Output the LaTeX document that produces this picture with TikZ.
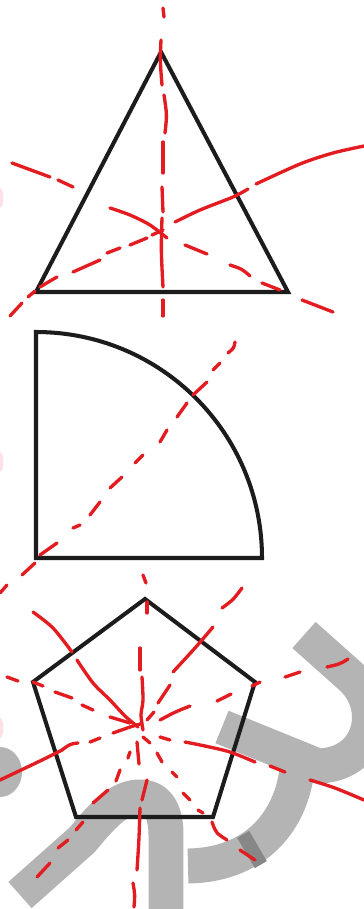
\documentclass[tikz,border=0pt]{standalone}
\definecolor{ink}{RGB}{28,28,28}
\definecolor{penred}{RGB}{226,28,32}
\definecolor{wmgrey}{RGB}{180,180,180}
\definecolor{wmdark}{RGB}{135,135,135}
\definecolor{smudge}{RGB}{252,226,230}
\begin{document}
\begin{tikzpicture}[x=0.02cm,y=-0.02cm,
  outline/.style={draw=ink,line width=2.3pt,line join=miter},
  pen/.style={draw=penred,line width=1.9pt,line cap=round,line join=round},
  wm/.style={draw=wmgrey,line width=0.7cm,line cap=butt,line join=round},
  wmd/.style={draw=wmdark,line width=0.7cm,line cap=butt}]
\useasboundingbox (0,0) rectangle (364,909);
\fill[white] (0,0) rectangle (364,909);
\begin{scope}
\clip (0,0) rectangle (364,909);
% ---------- watermark ----------
\fill[wmgrey] (0,772) ellipse (0.44cm and 0.5cm);
\draw[wm] (20,895) -- (82,840) .. controls (105,812) and (120,797) .. (140,797)
          .. controls (160,797) and (166,815) .. (166,835) -- (166,915);
\draw[wm] (304,635) -- (350,676) .. controls (385,706) and (372,765) .. (318,766) -- (222,727);
\draw[wm] (298,755) .. controls (297,815) and (260,865) .. (188,866);
\draw[wmd] (258,846) -- (246,853);
% ---------- smudges ----------
\fill[smudge] (0,198) ellipse (0.07cm and 0.2cm);
\fill[smudge] (0,462) ellipse (0.07cm and 0.2cm);
\fill[smudge] (0,728) ellipse (0.07cm and 0.2cm);
\end{scope}
% ---------- black shapes ----------
\coordinate (tA) at (161,52);
\coordinate (tB) at (288,292);
\coordinate (tC) at (36,292);
\draw[outline] (tA) -- (tB) -- (tC) -- cycle;
\coordinate (qO) at (36,558);
\coordinate (qT) at (36,332);
\coordinate (qR) at (262,558);
\draw[outline] (qO) -- (qT) .. controls (161,332) and (262,433) .. (qR) -- cycle;
\coordinate (p1) at (145,599);
\coordinate (p2) at (255,682);
\coordinate (p3) at (213,817);
\coordinate (p4) at (76,817);
\coordinate (p5) at (33,682);
\draw[outline] (p1) -- (p2) -- (p3) -- (p4) -- (p5) -- cycle;
% ---------- triangle red lines ----------
% vertical
\draw[pen] (163,8) -- (164,17);
\draw[pen] (161,40) .. controls (160,60) .. (162,85);
\draw[pen] (164,95) .. controls (167,115) .. (165,133);
\draw[pen] (163,142) -- (163,173);
\draw[pen] (162,187) -- (163,212);
\draw[pen] (162,218) .. controls (161,250) .. (163,287);
\draw[pen] (163,300) -- (163,316);
% upper-left to lower-right
\draw[pen] (12,163) -- (50,177);
\draw[pen] (58,180) -- (73,187);
\draw[pen] plot[smooth] coordinates {(110,208) (130,215) (150,225) (167,238)};
\draw[pen] (185,245) -- (207,254);
\draw[pen] (230,265) .. controls (242,269) .. (250,276);
\draw[pen] (262,283) -- (280,290);
\draw[pen] (302,300) -- (333,312);
% lower-left to upper-right
\draw[pen] (10,316) -- (22,303);
\draw[pen] (28,297) -- (35,291);
\draw[pen] (40,287) .. controls (50,281) .. (57,277);
\draw[pen] (73,272) -- (100,260);
\draw[pen] (107,253) -- (120,248);
\draw[pen] (130,245) -- (147,238);
\draw[pen] (152,235) -- (163,230);
\draw[pen] plot[smooth] coordinates {(175,222) (200,210) (233,197) (248,189)};
\draw[pen] plot[smooth] coordinates {(256,184) (300,164) (333,153) (364,146)};
% ---------- quarter circle diagonal ----------
\draw[pen] (0,593) -- (7,585);
\draw[pen] (22,575) -- (35,563);
\draw[pen] (40,555) -- (57,543);
\draw[pen] (73,528) -- (80,525);
\draw[pen] (90,515) -- (100,502);
\draw[pen] (110,488) -- (122,477);
\draw[pen] (135,463) -- (143,455);
\draw[pen] (160,442) -- (167,430);
\draw[pen] (177,417) -- (187,403);
\draw[pen] (193,395) -- (207,382);
\draw[pen] (213,370) -- (220,363);
\draw[pen] (228,353) .. controls (234,348) .. (235,342);
% ---------- pentagon red lines ----------
% vertical
\draw[pen] (143,575) -- (146,583);
\draw[pen] (147,602) -- (147,613);
\draw[pen] (140,648) -- (140,670);
\draw[pen] plot[smooth] coordinates {(142,677) (143,700) (141,715) (143,730)};
\draw[pen] (137,742) -- (139,764);
\draw[pen] (147,780) -- (142,800);
\draw[pen] (140,808) .. controls (139,840) .. (137,870);
\draw[pen] (133,883) .. controls (135,895) .. (134,907);
% upper-left to lower-right
\draw[pen] plot[smooth] coordinates {(33,612) (53,628) (72,652)};
\draw[pen] plot[smooth] coordinates {(77,660) (93,683) (110,700) (125,716) (138,727)};
\draw[pen] (143,737) -- (150,743);
\draw[pen] (157,753) -- (162,762);
\draw[pen] (172,772) -- (177,777);
\draw[pen] (183,793) -- (190,800);
\draw[pen] (198,810) -- (203,813);
\draw[pen] (212,822) .. controls (216,833) .. (227,840);
\draw[pen] (240,850) -- (255,860);
% left to lower-right
\draw[pen] (7,677) -- (18,681);
\draw[pen] (33,682) -- (43,686);
\draw[pen] (55,692) -- (72,698);
\draw[pen] (82,705) -- (93,710);
\draw[pen] (110,717) -- (130,723);
\draw[pen] (160,737) -- (170,740);
\draw[pen] plot[smooth] coordinates {(185,742) (205,746) (230,752) (255,762)};
\draw[pen] (270,766) -- (285,772);
\draw[pen] plot[smooth] coordinates {(310,780) (335,788) (364,800)};
% lower-left to upper-right
\draw[pen] plot[smooth] coordinates {(0,780) (40,761) (62,750)};
\draw[pen] (62,750) .. controls (70,744) .. (78,743);
\draw[pen] (90,742) -- (100,738);
\draw[pen] (113,733) -- (130,727);
\draw[pen] (130,727) -- (140,724);
\draw[pen] (160,720) .. controls (175,712) .. (190,706);
\draw[pen] (217,701) -- (231,694);
\draw[pen] (252,686) -- (260,682);
\draw[pen] (285,677) -- (300,672);
\draw[pen] (327,667) .. controls (340,664) .. (348,659);
% upper-right to lower-left
\draw[pen] (242,588) .. controls (233,600) .. (222,608);
\draw[pen] plot[smooth] coordinates {(213,627) (195,648) (173,672)};
\draw[pen] (170,685) -- (158,703);
\draw[pen] (154,712) -- (147,720);
\draw[pen] (130,752) -- (128,758);
\draw[pen] (120,770) -- (116,781);
\draw[pen] (108,790) -- (93,803);
\draw[pen] (83,822) -- (76,830);
\draw[pen] (68,840) -- (58,848);
\draw[pen] (50,863) -- (37,877);
\end{tikzpicture}
\end{document}
